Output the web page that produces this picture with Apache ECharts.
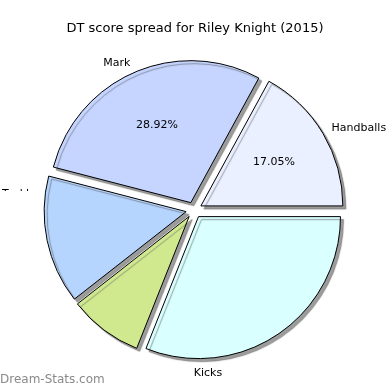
<!DOCTYPE html>
<html><head><meta charset="utf-8">
<script src="https://cdn.jsdelivr.net/npm/echarts@6/dist/echarts.min.js"></script>
<style>html,body{margin:0;padding:0;background:#fff}#c{width:390px;height:390px}</style>
</head><body><div id="c"></div>
<script>
var titleText = 'DT score spread for Riley Knight (2015)';
var categories = ['Handballs', 'Mark', 'Tackles', 'Frees', 'Kicks'];
var values = [17.05, 28.92, 14.6, 8.4, 31.03];
var pctLabels = ['17.05%', '28.92%', '', '', ''];
var pieLabelShown = [true, true, false, false, false];
var colors = ['#eaf0ff', '#c5d5ff', '#b5d5ff', '#d0e98f', '#d9ffff'];

var font = 'DejaVu Sans';
var chart = echarts.init(document.getElementById('c'), null, {renderer: 'canvas'});

var base = categories.map(function (n, i) {
  return {
    name: n, value: values[i], selected: true,
    itemStyle: {color: colors[i]},
    label: {show: pieLabelShown[i]}
  };
});
var txt = categories.map(function (n, i) {
  return {name: n, value: values[i], selected: true, label: {show: pctLabels[i] !== ''}};
});

chart.setOption({
  animation: false,
  title: {text: titleText, left: 'center', top: 17,
    textStyle: {fontFamily: font, fontSize: 13, fontWeight: 'normal', color: '#000'}},
  graphic: [
    {type: 'text', left: 0, top: 374, z: 10,
      style: {text: 'Dream-Stats.com', fontFamily: font, fontSize: 12, fontWeight: 'normal', fill: '#8a8a8a'}},
    {type: 'text', x: 208, y: 373, z: 10,
      style: {text: categories[4], fontFamily: font, fontSize: 11, fill: '#000', align: 'center', verticalAlign: 'middle'}},
    {type: 'text', x: 2, y: 189, z: 10,
      style: {text: categories[2], fontFamily: font, fontSize: 11, fill: '#000', align: 'left', verticalAlign: 'top'}},
    {type: 'rect', shape: {x: 0, y: 191, width: 42, height: 14}, z: 11,
      style: {fill: '#fff'}}
  ],
  series: [{
    type: 'pie', center: [194, 210], radius: 142,
    startAngle: 0, clockwise: false,
    selectedMode: 'multiple', selectedOffset: 8,
    avoidLabelOverlap: false, silent: true,
    itemStyle: {borderColor: '#000', borderWidth: 1,
      shadowColor: 'rgba(90,90,90,0.6)', shadowBlur: 1, shadowOffsetX: 3, shadowOffsetY: 3},
    label: {position: 'outside', fontFamily: font, fontSize: 11, color: '#000', distanceToLabelLine: 0,
      formatter: function (p) { return p.name; }},
    labelLine: {show: false, length: 10, length2: 0},
    data: base
  }, {
    type: 'pie', center: [194, 210], radius: 164,
    startAngle: 0, clockwise: false,
    selectedMode: 'multiple', selectedOffset: 8,
    avoidLabelOverlap: false, silent: true,
    itemStyle: {color: 'rgba(0,0,0,0)', borderWidth: 0},
    label: {position: 'inside', fontFamily: font, fontSize: 11, color: '#000',
      formatter: function (p) { return pctLabels[p.dataIndex]; }},
    labelLine: {show: false},
    data: txt
  }]
});
</script></body></html>
